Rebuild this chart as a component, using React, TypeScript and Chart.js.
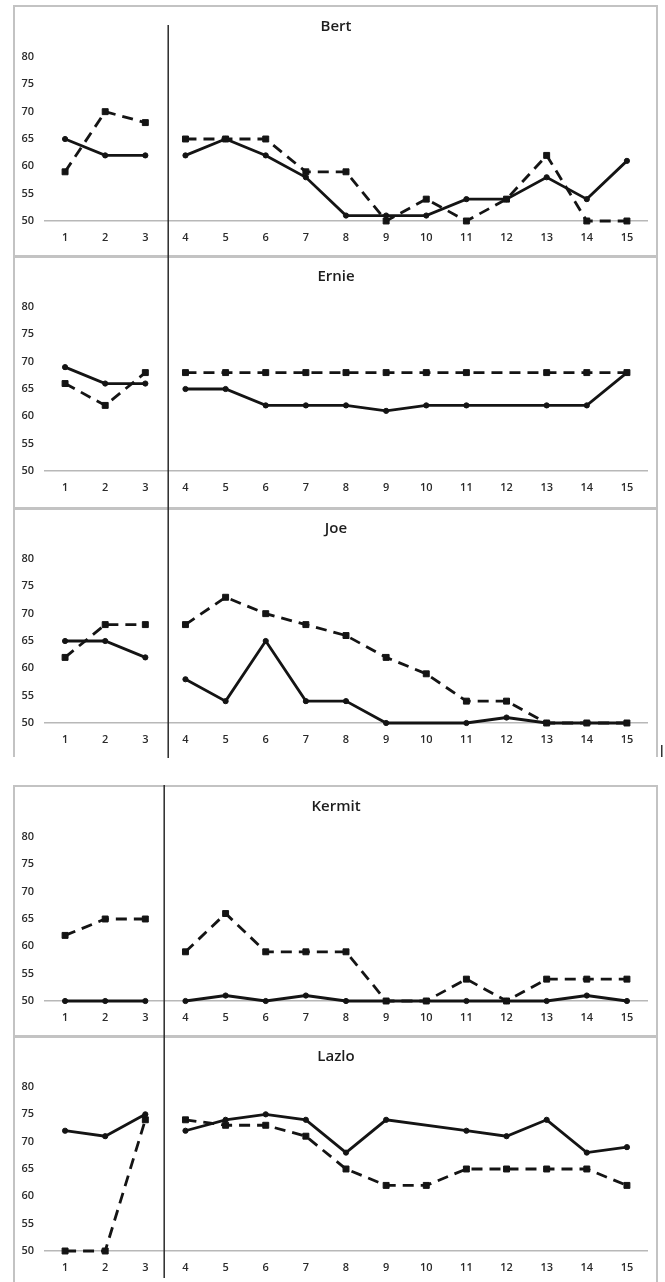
import { useEffect, useRef } from "react";
import { Chart, registerables } from "chart.js";

Chart.register(...registerables);

const SESSIONS = ["1", "2", "3", "4", "5", "6", "7", "8", "9", "10", "11", "12", "13", "14", "15"];
const Y_TICKS = [50, 55, 60, 65, 70, 75, 80];

const BERT_SOLID = [65, 62, 62, 62, 65, 62, 58, 51, 51, 51, 54, 54, 58, 54, 61];
const BERT_DASHED = [59, 70, 68, 65, 65, 65, 59, 59, 50, 54, 50, 54, 62, 50, 50];
const ERNIE_SOLID = [69, 66, 66, 65, 65, 62, 62, 62, 61, 62, 62, null, 62, 62, 68];
const ERNIE_DASHED = [66, 62, 68, 68, 68, 68, 68, 68, 68, 68, 68, null, 68, 68, 68];
const JOE_SOLID = [65, 65, 62, 58, 54, 65, 54, 54, 50, null, 50, 51, 50, 50, 50];
const JOE_DASHED = [62, 68, 68, 68, 73, 70, 68, 66, 62, 59, 54, 54, 50, 50, 50];
const KERMIT_SOLID = [50, 50, 50, 50, 51, 50, 51, 50, 50, 50, 50, 50, 50, 51, 50];
const KERMIT_DASHED = [62, 65, 65, 59, 66, 59, 59, 59, 50, 50, 54, 50, 54, 54, 54];
const LAZLO_SOLID = [72, 71, 75, 72, 74, 75, 74, 68, 74, null, 72, 71, 74, 68, 69];
const LAZLO_DASHED = [50, 50, 74, 74, 73, 73, 71, 65, 62, 62, 65, 65, 65, 65, 62];

// last session (0-based index) of the first phase; lines are not joined across it
const PHASE_END_INDEX = 2;
// phase-change line position, in category index units
const BREAK_TOP_GROUP = 2.57;
const BREAK_BOTTOM_GROUP = 2.47;

const FONT = "'Open Sans', 'Noto Sans', sans-serif";
const INK = "#141414";
const FRAME = "#c3c3c3";

type PanelProps = {
  name: string;
  solid: (number | null)[];
  dashed: (number | null)[];
  top: number;
  height: number;
  borderTop: number;
  lineFrom: number;
  lineTo: number;
  breakAt: number;
  sideTo: number;
  mark?: boolean;
};

const phaseGap = {
  borderColor: (ctx: any) => (ctx.p0DataIndex === PHASE_END_INDEX ? "rgba(0,0,0,0)" : undefined),
};

function Panel(p: PanelProps) {
  const ref = useRef<HTMLCanvasElement | null>(null);
  useEffect(() => {
    if (!ref.current) return;
    const frame = {
      id: "frame",
      beforeDraw(chart: any) {
        const ctx = chart.ctx;
        ctx.save();
        ctx.fillStyle = "#ffffff";
        ctx.fillRect(0, 0, chart.width, chart.height);
        ctx.fillStyle = FRAME;
        ctx.fillRect(13, 0, 645, p.borderTop);
        ctx.fillRect(13, 0, 2, p.sideTo);
        ctx.fillRect(656, 0, 2, p.sideTo);
        ctx.restore();
      },
      afterDraw(chart: any) {
        const ctx = chart.ctx;
        const xs = chart.scales.x;
        ctx.save();
        const bx = xs.getPixelForValue(p.breakAt);
        ctx.strokeStyle = "#2a2a2a";
        ctx.lineWidth = 1.5;
        ctx.beginPath();
        ctx.moveTo(bx, p.lineFrom);
        ctx.lineTo(bx, p.lineTo);
        ctx.stroke();
        ctx.fillStyle = "#1e1e1e";
        ctx.font = `600 15px ${FONT}`;
        ctx.textAlign = "center";
        ctx.textBaseline = "middle";
        ctx.fillText(p.name, 336, 22);
        if (p.mark) {
          ctx.fillStyle = "#333";
          ctx.fillRect(661, 238, 1.5, 12);
        }
        ctx.restore();
      },
    };
    const chart = new Chart(ref.current, {
      type: "line",
      data: {
        labels: SESSIONS,
        datasets: [
          {
            data: p.dashed,
            borderColor: INK,
            backgroundColor: INK,
            borderWidth: 2.8,
            borderDash: [11, 7],
            pointStyle: "rect",
            pointRadius: 4.2,
            pointBorderWidth: 1,
            pointBackgroundColor: INK,
            pointBorderColor: INK,
            tension: 0,
            spanGaps: true,
            clip: false,
            segment: phaseGap,
          },
          {
            data: p.solid,
            borderColor: INK,
            backgroundColor: INK,
            borderWidth: 2.8,
            pointStyle: "circle",
            pointRadius: 2.6,
            pointBorderWidth: 1,
            pointBackgroundColor: INK,
            pointBorderColor: INK,
            tension: 0,
            spanGaps: true,
            clip: false,
            segment: phaseGap,
          },
        ],
      },
      options: {
        responsive: false,
        animation: false,
        devicePixelRatio: 1,
        layout: { padding: { top: 52, right: 18, bottom: p.height - 216 - 30, left: 0 } },
        plugins: { legend: { display: false }, tooltip: { enabled: false }, title: { display: false } },
        scales: {
          x: {
            type: "category",
            offset: true,
            grid: { display: false, drawTicks: false },
            border: { display: true, color: "#b8b8b8", width: 1.5 },
            ticks: { color: "#2a2a2a", font: { family: FONT, size: 11, weight: "600" }, padding: 10, maxRotation: 0, autoSkip: false },
            afterFit: (s: any) => {
              s.height = 30;
            },
          },
          y: {
            min: 50,
            max: 80,
            grid: { display: false, drawTicks: false },
            border: { display: false },
            afterBuildTicks: (s: any) => {
              s.ticks = Y_TICKS.map((v) => ({ value: v }));
            },
            ticks: { color: "#2a2a2a", font: { family: FONT, size: 11, weight: "600" }, padding: 11 },
            afterFit: (s: any) => {
              s.width = 45;
            },
          },
        },
      },
      plugins: [frame],
    } as any);
    return () => chart.destroy();
  }, []);
  return (
    <canvas
      ref={ref}
      width={665}
      height={p.height}
      style={{ position: "absolute", left: 0, top: p.top, width: 665, height: p.height, display: "block" }}
    />
  );
}

export default function App() {
  return (
    <div style={{ position: "absolute", left: 0, top: 0, width: 665, height: 1282, background: "#fff", overflow: "hidden" }}>
      <Panel name="Bert" solid={BERT_SOLID} dashed={BERT_DASHED} top={5} height={251} borderTop={2} lineFrom={20} lineTo={251} breakAt={BREAK_TOP_GROUP} sideTo={251} />
      <Panel name="Ernie" solid={ERNIE_SOLID} dashed={ERNIE_DASHED} top={255} height={252} borderTop={3} lineFrom={0} lineTo={252} breakAt={BREAK_TOP_GROUP} sideTo={252} />
      <Panel name="Joe" solid={JOE_SOLID} dashed={JOE_DASHED} top={507} height={251} borderTop={3} lineFrom={0} lineTo={251} breakAt={BREAK_TOP_GROUP} sideTo={250} mark />
      <Panel name="Kermit" solid={KERMIT_SOLID} dashed={KERMIT_DASHED} top={785} height={251} borderTop={2} lineFrom={0} lineTo={251} breakAt={BREAK_BOTTOM_GROUP} sideTo={251} />
      <Panel name="Lazlo" solid={LAZLO_SOLID} dashed={LAZLO_DASHED} top={1035} height={247} borderTop={3} lineFrom={0} lineTo={243} breakAt={BREAK_BOTTOM_GROUP} sideTo={247} />
    </div>
  );
}
